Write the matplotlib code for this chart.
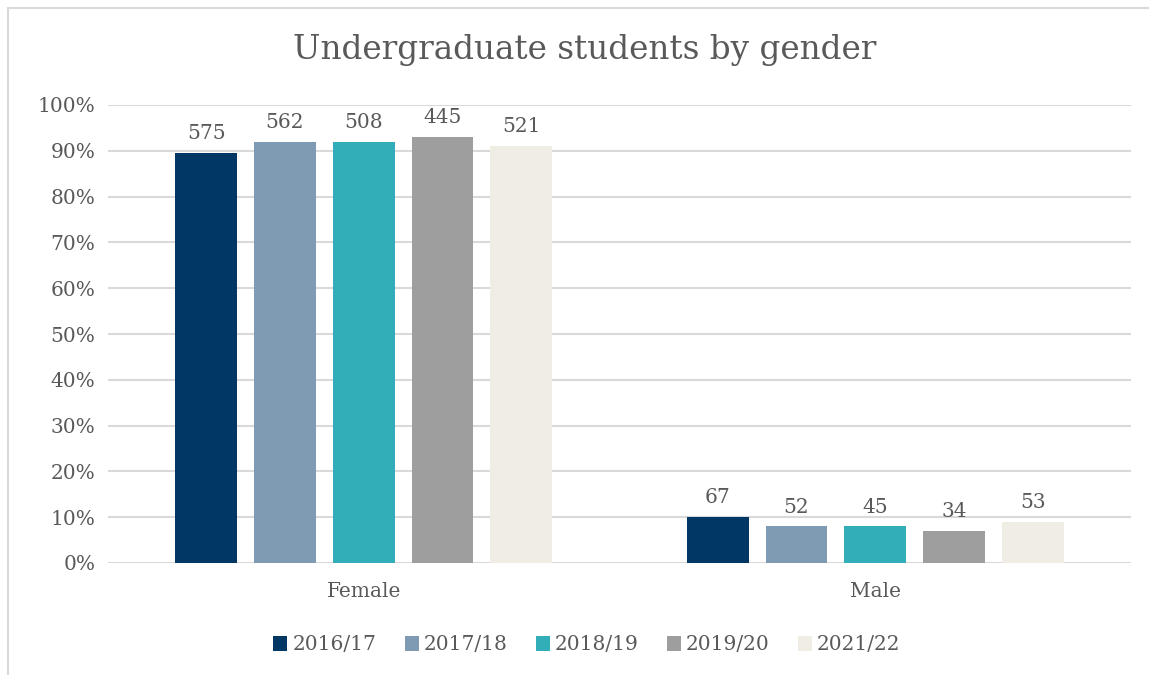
import numpy as np
import matplotlib
matplotlib.use('Agg')
import matplotlib.pyplot as plt
from matplotlib.lines import Line2D
from matplotlib.patches import Patch

# data
genders = ['Female', 'Male']
years = ['2016/17', '2017/18', '2018/19', '2019/20', '2021/22']
counts = {
    '2016/17': [575, 67],
    '2017/18': [562, 52],
    '2018/19': [508, 45],
    '2019/20': [445, 34],
    '2021/22': [521, 53],
}
shares = {
    '2016/17': [89.5, 10],
    '2017/18': [92, 8],
    '2018/19': [92, 8],
    '2019/20': [93, 7],
    '2021/22': [91, 9],
}
colors = ['#003764', '#7F9BB3', '#31AEB7', '#9E9E9E', '#F0EDE4']
txt = '#595959'

plt.rcParams['font.family'] = ['DejaVu Serif']

fig = plt.figure(figsize=(11.49, 6.75), dpi=100)
W, H = 1149, 675
# plot area in pixels: x 108..1131, y 105..563
ax = fig.add_axes([108 / W, 1 - 563 / H, (1131 - 108) / W, (563 - 105) / H])

x = np.arange(len(genders))
width = 0.121
step = 0.154
for i, yr in enumerate(years):
    off = (i - 2) * step
    bars = ax.bar(x + off, shares[yr], width, color=colors[i], zorder=3, label=yr)
    for b, c in zip(bars, counts[yr]):
        ax.annotate(str(c), (b.get_x() + b.get_width() / 2, b.get_height()),
                    xytext=(0, 7), textcoords='offset points', ha='center', va='bottom',
                    fontsize=14.5, color=txt, zorder=4)

ax.set_xlim(-0.5, 1.5)
ax.set_ylim(0, 100)
ax.set_yticks(range(0, 101, 10))
ax.set_yticklabels([f'{v}%' for v in range(0, 101, 10)])
ax.set_xticks(x)
ax.set_xticklabels(genders)
ax.grid(axis='y', color='#D9D9D9', linewidth=1.5, zorder=0)
for s in ax.spines.values():
    s.set_visible(False)
ax.tick_params(axis='both', length=0, labelsize=14.5, labelcolor=txt)
ax.tick_params(axis='y', pad=9)
ax.tick_params(axis='x', pad=14)

fig.text(585 / W, 1 - 50 / H, 'Undergraduate students by gender', ha='center', va='center',
         fontsize=23.5, color=txt)

handles = [Patch(facecolor=c, edgecolor='none') for c in colors]
fig.legend(handles, years, loc='center', bbox_to_anchor=(587 / W, 1 - 645 / H), ncol=5,
           frameon=False, fontsize=14.5, labelcolor=txt, handlelength=0.7, handleheight=0.7,
           handletextpad=0.25, columnspacing=1.4)

# chart border (left and top edges visible)
fig.add_artist(Line2D([8 / W, 8 / W], [0, 1 - 8 / H], color='#D9D9D9', linewidth=1.5))
fig.add_artist(Line2D([8 / W, 1], [1 - 8 / H, 1 - 8 / H], color='#D9D9D9', linewidth=1.5))

fig.savefig('out.png', dpi=100)
